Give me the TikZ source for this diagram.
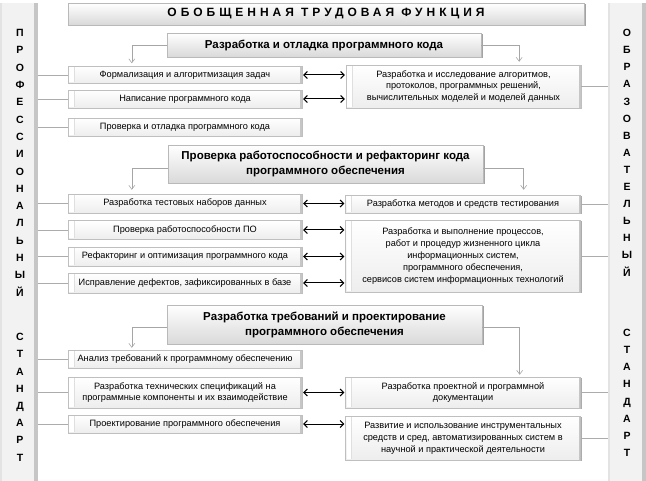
\documentclass[tikz,border=0pt]{standalone}
\usepackage{fontspec}
\setmainfont{Liberation Sans}
\usetikzlibrary{arrows.meta,shadows}

\begin{document}
\begin{tikzpicture}[
  x=1pt,
  y=-1pt,
  sidebar/.style={
    fill=gray!10,
    minimum width=38pt,
    minimum height=478pt,
    inner sep=0pt,
    path picture={
      \fill[gray!45] ([xshift=-4pt]path picture bounding box.north east) rectangle (path picture bounding box.south east);
      \fill[gray!22] (path picture bounding box.north west) rectangle ([xshift=2pt]path picture bounding box.south west);
    }
  },
  barletter/.style={
    font=\bfseries\fontsize{10.5}{10.5}\selectfont,
    inner sep=0pt,
    anchor=base
  },
  headbox/.style={
    draw=gray!55,
    top color=white,
    bottom color=gray!30,
    drop shadow={shadow xshift=1.5pt, shadow yshift=-1.5pt, fill=gray!80!black, opacity=0.6},
    font=\bfseries\fontsize{11.5}{15}\selectfont,
    align=center,
    inner sep=0pt
  },
  cellbox/.style={
    draw=gray!50,
    top color=white,
    bottom color=gray!14,
    drop shadow={shadow xshift=1pt, shadow yshift=-1pt, fill=gray!70!black, opacity=0.5},
    font=\fontsize{9.2}{11.8}\selectfont,
    align=center,
    inner sep=0pt,
    minimum width=234pt,
    path picture={
      \fill[white] ([xshift=1pt,yshift=-1pt]path picture bounding box.north west) rectangle ([xshift=6pt,yshift=1pt]path picture bounding box.south west);
      \draw[gray!25] ([xshift=6pt,yshift=-1pt]path picture bounding box.north west) -- ([xshift=6pt,yshift=1pt]path picture bounding box.south west);
      \fill[gray!45] ([xshift=-2pt]path picture bounding box.north east) rectangle (path picture bounding box.south east);
    }
  },
  linkline/.style={
    draw=gray!65,
    line width=0.8pt
  },
  pairarrow/.style={
    draw=black,
    line width=1pt,
    arrows={Straight Barb[length=3.5pt,width=7pt]-Straight Barb[length=3.5pt,width=7pt]}
  },
  feedarrow/.style={
    draw=gray!70,
    line width=0.6pt,
    arrows={-Straight Barb[length=4pt,width=6pt]}
  }
]

\useasboundingbox (0,0) rectangle (646,481);

\newcommand{\drawbarletters}[5]{%
  \foreach \ch [count=\c from 0] in {#5} {
    \node[barletter] (#1\c) at (#2,{#3+#4*\c}) {\ch};
  }
}

% side bars
\node[sidebar] (lbar) at (19,242) {};
\node[sidebar] (rbar) at (627,242) {};

\drawbarletters{lp}{20}{36.7}{17.3}{П,Р,О,Ф,Е,С,С,И,О,Н,А,Л,Ь,Н,Ы,Й}
\drawbarletters{ls}{20}{340.7}{17.2}{С,Т,А,Н,Д,А,Р,Т}
\drawbarletters{ro}{627}{36.7}{17.1}{О,Б,Р,А,З,О,В,А,Т,Е,Л,Ь,Н,Ы,Й}
\drawbarletters{rs}{627}{336.7}{17.1}{С,Т,А,Н,Д,А,Р,Т}

% title and headers
\node[headbox, minimum width=516pt, minimum height=22pt] (title) at (326,14)
  {\fontsize{12}{14}\selectfont\addfontfeatures{LetterSpace=33}ОБОБЩЕННАЯ ТРУДОВАЯ ФУНКЦИЯ};
\node[headbox, minimum width=314pt, minimum height=24pt] (h1) at (324,45)
  {Разработка и отладка программного кода};
\node[headbox, minimum width=315pt, minimum height=38pt] (h2) at (325.5,164)
  {Проверка работоспособности и рефакторинг кода\\программного обеспечения};
\node[headbox, minimum width=315pt, minimum height=39pt] (h3) at (324.5,324.5)
  {Разработка требований и проектирование\\программного обеспечения};

% block 1
\node[cellbox, minimum height=17pt] (f11) at (185,75) {Формализация и алгоритмизация задач};
\node[cellbox, minimum height=18pt] (f12) at (185,99) {Написание программного кода};
\node[cellbox, minimum height=18pt] (f13) at (185,127) {Проверка  и отладка программного кода};
\node[cellbox, minimum width=235pt, minimum height=43pt] (r11) at (463.5,86.5)
  {Разработка и исследование алгоритмов,\\протоколов, программных решений,\\вычислительных моделей и моделей данных};

% block 2
\node[cellbox, minimum height=19pt] (f21) at (185,203.5) {Разработка тестовых наборов данных};
\node[cellbox, minimum height=19pt] (f22) at (185,230) {Проверка работоспособности ПО};
\node[cellbox, minimum height=19pt] (f23) at (185,256.5) {Рефакторинг и оптимизация программного кода};
\node[cellbox, minimum height=20pt] (f24) at (185,283) {Исправление дефектов, зафиксированных в базе};
\node[cellbox, minimum width=235pt, minimum height=18pt] (r21) at (463,204)
  {Разработка методов и средств тестирования};
\node[cellbox, minimum width=235pt, minimum height=72pt] (r22) at (463,256)
  {Разработка и выполнение процессов,\\работ и процедур жизненного цикла\\информационных систем,\\программного обеспечения,\\сервисов систем информационных технологий};

% block 3
\node[cellbox, minimum height=18pt] (f31) at (185,359) {Анализ требований к программному обеспечению};
\node[cellbox, minimum height=31pt] (f32) at (185,392.5)
  {Разработка технических спецификаций на\\программные компоненты и их взаимодействие};
\node[cellbox, minimum height=18pt] (f33) at (185,424) {Проектирование программного обеспечения};
\node[cellbox, minimum width=235pt, minimum height=31pt] (r31) at (463,392.5)
  {Разработка проектной и программной\\документации};
\node[cellbox, minimum width=235pt, minimum height=44pt] (r32) at (463,438)
  {Развитие и использование инструментальных\\средств и сред, автоматизированных систем в\\научной и практической деятельности};

% links to the side bars
\foreach \n in {f11,f12,f13,f21,f22,f23,f24,f31,f32,f33}
  \draw[linkline] (\n.west -| lbar.east) -- (\n.west);
\foreach \n in {r11,r21,r22,r31,r32}
  \draw[linkline] (\n.east) -- (\n.east -| rbar.west);

% two-way arrows
\foreach \a/\b in {f11/r11,f12/r11,f21/r21,f22/r22,f23/r22,f24/r22,f32/r31,f33/r32}
  \draw[pairarrow] ([xshift=1pt]\a.east) -- ([xshift=-1pt]\a.east -| \b.west);

% arrows from the headers
\draw[feedarrow] (h1.west) -| ([xshift=64pt,yshift=3pt]f11.north west);
\draw[feedarrow] (h1.east) -| ([xshift=-62pt,yshift=3pt]r11.north east);
\draw[feedarrow] ([yshift=-4pt]h2.west) -| ([xshift=64pt,yshift=4pt]f21.north west);
\draw[feedarrow] ([yshift=-4pt]h2.east) -| ([xshift=-57pt,yshift=5pt]r21.north east);
\draw[feedarrow] ([yshift=-2.5pt]h3.west) -| ([xshift=64pt,yshift=2pt]f31.north west);
\draw[feedarrow] ([yshift=-3pt]h3.east) -| ([xshift=-61pt,yshift=2pt]r31.north east);

\end{tikzpicture}
\end{document}
